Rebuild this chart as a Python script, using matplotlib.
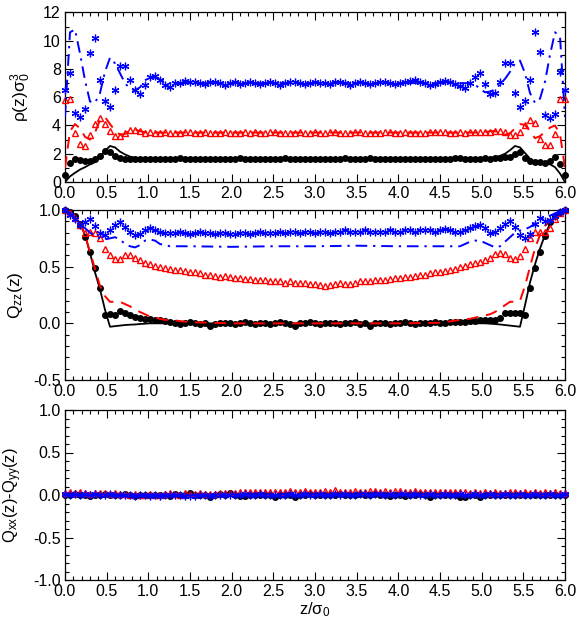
import numpy as np
import matplotlib
matplotlib.use("Agg")
import matplotlib.pyplot as plt
from matplotlib.ticker import MultipleLocator, FormatStrFormatter

plt.rcParams['font.family'] = ['Liberation Sans', 'DejaVu Sans']
plt.rcParams['mathtext.default'] = 'regular'
plt.rcParams['font.size'] = 11.5

# ---- positions along the slab ----
# simulation bins (every 0.06 sigma_0)
z_pts = np.round(np.arange(101) * 0.06, 2)
# theory curves: dense near the walls, sparse in the flat bulk
z_line = np.concatenate([np.round(np.arange(22) * 0.06, 2),
                         [1.5, 2.0, 2.5, 3.0, 3.5, 4.0, 4.5],
                         np.round(np.arange(79, 101) * 0.06, 2)])

# ---- density profiles rho(z) sigma_0^3 ----
rho_black_pts = [
    0.5, 1.35, 1.6, 1.55, 1.5, 1.5, 1.6, 1.85, 2.2, 2.1, 1.85, 1.7, 1.62,
    1.60, 1.62, 1.64, 1.63, 1.65, 1.66, 1.64, 1.62, 1.63, 1.65,
    1.67, 1.64, 1.63, 1.65, 1.66, 1.64, 1.62, 1.64, 1.66, 1.65,
    1.63, 1.64, 1.67, 1.65, 1.63, 1.64, 1.66, 1.65, 1.62, 1.64,
    1.65, 1.67, 1.64, 1.63, 1.65, 1.66, 1.64, 1.63, 1.62, 1.65,
    1.66, 1.64, 1.65, 1.67, 1.65, 1.63, 1.64, 1.66, 1.68, 1.65,
    1.63, 1.64, 1.65, 1.66, 1.64, 1.62, 1.60, 1.61, 1.63, 1.64,
    1.63, 1.65, 1.66, 1.64, 1.65, 1.67, 1.68, 1.66, 1.64, 1.65,
    1.66, 1.67, 1.66,
    1.68, 1.72, 1.78, 1.8, 2.0, 2.1, 1.7, 1.5, 1.45, 1.4, 1.35, 1.5, 1.8, 1.3, 0.5]
rho_red_pts = [
    5.8, 5.9, 3.5, 2.7, 2.55, 3.3, 4.1, 4.5, 4.1, 3.6, 3.25, 3.25, 3.5, 3.7, 3.65, 3.6,
    3.50, 3.52, 3.48, 3.50, 3.53, 3.49, 3.47, 3.50, 3.52, 3.51,
    3.48, 3.50, 3.53, 3.50, 3.48, 3.49, 3.52, 3.50, 3.47, 3.50,
    3.51, 3.49, 3.52, 3.50, 3.48, 3.51, 3.53, 3.50, 3.49, 3.48,
    3.50, 3.52, 3.50, 3.49, 3.51, 3.48, 3.50, 3.53, 3.51, 3.49,
    3.50, 3.48, 3.51, 3.52, 3.50, 3.49, 3.47, 3.50, 3.52, 3.51,
    3.49, 3.50, 3.52, 3.50, 3.48, 3.47, 3.50, 3.51, 3.53, 3.55,
    3.52, 3.50, 3.49, 3.51, 3.50, 3.52, 3.54, 3.55, 3.56,
    3.55, 3.58, 3.6, 3.55, 3.3, 3.3, 3.55, 4.0, 4.4, 4.2, 3.05, 2.6, 2.6, 3.4, 5.9, 5.9]
rho_blue_pts = [
    6.5, 7.7, 4.9, 4.6, 5.2, 9.1, 10.2, 7.2, 5.7, 5.3, 6.5, 8.2, 8.2, 7.2, 6.5, 6.25,
    6.9, 7.4, 7.5, 7.2, 6.9, 6.7, 7.0, 7.0, 7.15, 7.1,
    7.05, 7.0, 6.95, 7.05, 7.1, 7.0, 6.85, 7.0, 7.05, 6.95,
    7.0, 7.1, 7.0, 6.95, 7.0, 7.05, 7.0, 6.9, 7.0, 7.05,
    7.1, 7.0, 6.95, 7.0, 7.05, 7.0, 7.0, 6.95, 7.05, 7.1,
    7.0, 6.9, 7.0, 7.05, 7.0, 6.95, 7.0, 7.1, 7.05, 7.0,
    6.95, 7.0, 7.05, 7.15, 7.2, 7.1, 7.0, 6.9, 6.95, 7.1,
    7.15, 7.1, 6.95, 6.8, 6.65, 7.0, 7.45, 7.7, 6.95, 6.2, 6.3, 7.1, 8.45, 8.4,
    6.3, 5.3, 5.7, 7.2, 10.6, 9.2, 4.75, 4.5, 4.8, 7.8, 6.5]

rho_black_line = [
    0.0, 0.4, 0.65, 0.88, 1.05, 1.25, 1.4, 1.75, 2.2, 2.55, 2.45, 2.15, 1.95, 1.8,
    1.72, 1.68, 1.66, 1.65, 1.65, 1.65, 1.65, 1.65,
    1.65, 1.65, 1.65, 1.65, 1.65, 1.65, 1.65,
    1.65, 1.65, 1.65, 1.65, 1.66, 1.67, 1.7, 1.76, 1.85, 2.0, 2.25, 2.55, 2.45,
    2.05, 1.65, 1.4, 1.35, 1.35, 1.25, 1.05, 0.6, 0.0]
rho_red_line = [
    1.0, 3.6, 4.1, 3.8, 3.2, 3.0, 3.5, 4.4, 4.6, 4.1, 3.65, 3.35, 3.4, 3.65, 3.7,
    3.6, 3.52, 3.5, 3.5, 3.5, 3.5, 3.5,
    3.5, 3.5, 3.5, 3.5, 3.5, 3.5, 3.5,
    3.5, 3.5, 3.5, 3.5, 3.5, 3.52, 3.6, 3.6, 3.45, 3.35, 3.45, 3.8, 4.1, 4.05,
    3.6, 3.1, 3.25, 3.55, 3.85, 4.0, 3.4, 1.0]
rho_blue_line = [
    4.6, 10.6, 10.8, 9.1, 7.2, 5.7, 5.6, 6.3, 7.8, 8.8, 8.4, 7.7, 7.0, 6.6, 6.5,
    6.7, 7.2, 7.4, 7.4, 7.25, 7.1, 7.0,
    7.0, 7.0, 7.0, 7.0, 7.0, 7.0, 7.0,
    7.0, 7.0, 7.0, 6.9, 6.6, 6.35, 6.4, 6.55, 6.9, 7.3, 7.8, 8.4, 8.6, 7.7, 6.3,
    5.6, 5.9, 7.1, 9.0, 10.6, 10.3, 4.6]

# ---- order parameter Q_zz(z) ----
qzz_black_pts = [
    1.0, 0.98, 0.95, 0.88, 0.76, 0.63, 0.49, 0.31, 0.07, 0.08, 0.07, 0.11, 0.09,
    0.07, 0.06, 0.05, 0.04, 0.04, 0.03, 0.03, 0.02, 0.01,
    0.0, -0.01, 0.0, 0.01, 0.0, -0.005, 0.0, -0.02, -0.01, 0.0,
    0.005, 0.0, -0.01, 0.0, 0.01, 0.0, -0.005, 0.0, 0.0, -0.01,
    0.0, 0.01, 0.0, -0.005, -0.02, 0.0, 0.0, 0.01, 0.0, -0.01,
    0.0, 0.005, 0.0, -0.01, 0.0, 0.0, 0.01, -0.005, 0.0, -0.02,
    0.0, 0.005, 0.0, -0.01, 0.0, 0.0, 0.01, 0.0, -0.005, 0.0,
    0.0, 0.005, 0.01, 0.0, 0.005, 0.01, 0.01, 0.01,
    0.01, 0.02, 0.02, 0.03, 0.03, 0.03, 0.03, 0.05, 0.09, 0.09, 0.09, 0.09, 0.07,
    0.31, 0.49, 0.63, 0.77, 0.89, 0.95, 0.98, 1.0]
qzz_red_pts = [
    1.0, 0.97, 0.93, 0.87, 0.8, 0.81, 0.8, 0.75, 0.66, 0.6, 0.57, 0.57, 0.6, 0.6,
    0.58, 0.56, 0.53, 0.52, 0.51, 0.5, 0.49, 0.48, 0.47,
    0.47, 0.46, 0.45, 0.45, 0.44, 0.43, 0.43, 0.42, 0.41, 0.42,
    0.41, 0.40, 0.40, 0.39, 0.39, 0.38, 0.38, 0.38, 0.37, 0.37,
    0.37, 0.36, 0.37, 0.36, 0.36, 0.36, 0.35, 0.35, 0.34, 0.33,
    0.34, 0.35, 0.36, 0.35, 0.35, 0.36, 0.37, 0.37, 0.37, 0.38,
    0.38, 0.38, 0.39, 0.40, 0.40, 0.41, 0.41, 0.42, 0.43, 0.43,
    0.44, 0.45, 0.45, 0.46, 0.47, 0.48, 0.50, 0.51, 0.52, 0.53, 0.54,
    0.56, 0.58, 0.61, 0.62, 0.61, 0.58, 0.57, 0.59, 0.66, 0.75, 0.81, 0.81, 0.81,
    0.84, 0.92, 0.97, 1.0]
qzz_blue_pts = [
    1.0, 0.96, 0.92, 0.87, 0.89, 0.92, 0.86, 0.8, 0.78, 0.82, 0.87, 0.89, 0.85,
    0.81, 0.78, 0.79, 0.82, 0.84, 0.82, 0.81, 0.8, 0.8,
    0.80, 0.81, 0.80, 0.79, 0.80, 0.81, 0.80, 0.80, 0.79, 0.80,
    0.80, 0.79, 0.79, 0.80, 0.80, 0.79, 0.80, 0.81, 0.80, 0.80,
    0.80, 0.81, 0.80, 0.81, 0.81, 0.80, 0.81, 0.81, 0.80, 0.81,
    0.81, 0.80, 0.81, 0.81, 0.82, 0.81, 0.81, 0.81, 0.82, 0.81,
    0.81, 0.81, 0.81, 0.82, 0.81, 0.81, 0.82, 0.82, 0.81, 0.82,
    0.82, 0.82, 0.81, 0.82, 0.83, 0.82, 0.81,
    0.81, 0.82, 0.84, 0.86, 0.87, 0.84, 0.8, 0.81, 0.84, 0.88, 0.9, 0.85, 0.78,
    0.75, 0.79, 0.88, 0.93, 0.9, 0.91, 0.95, 0.98, 1.0]

qzz_black_line = [
    1.0, 0.98, 0.94, 0.88, 0.78, 0.62, 0.45, 0.3, 0.12, -0.03, -0.025, -0.02,
    -0.015, -0.012, -0.01, -0.006, -0.003, 0.0, 0.0, 0.0, 0.0, 0.0,
    0.0, 0.0, 0.0, 0.0, 0.0, 0.0, 0.0,
    0.0, 0.0, 0.0, 0.0, 0.0, 0.0, -0.003, -0.006, -0.01, -0.015, -0.02, -0.025,
    -0.03, 0.16, 0.36, 0.52, 0.66, 0.78, 0.88, 0.94, 0.98, 1.0]
qzz_red_line = [
    1.0, 0.98, 0.95, 0.89, 0.78, 0.63, 0.48, 0.33, 0.24, 0.19, 0.19, 0.19, 0.17,
    0.15, 0.12, 0.1, 0.08, 0.06, 0.05, 0.04, 0.03, 0.03,
    0.01, 0.0, 0.0, 0.0, 0.0, 0.0, 0.005,
    0.03, 0.035, 0.04, 0.05, 0.06, 0.07, 0.08, 0.1, 0.13, 0.16, 0.19, 0.19, 0.2,
    0.33, 0.5, 0.66, 0.78, 0.86, 0.9, 0.94, 0.98, 1.0]
qzz_blue_line = [
    1.0, 0.97, 0.93, 0.88, 0.84, 0.8, 0.77, 0.75, 0.74, 0.75, 0.76, 0.74, 0.7,
    0.68, 0.67, 0.69, 0.73, 0.74, 0.73, 0.7, 0.69, 0.68,
    0.68, 0.675, 0.68, 0.68, 0.685, 0.68, 0.68,
    0.68, 0.7, 0.72, 0.73, 0.73, 0.71, 0.69, 0.67, 0.68, 0.72, 0.76, 0.8, 0.82,
    0.83, 0.85, 0.88, 0.91, 0.93, 0.95, 0.97, 0.99, 1.0]

# ---- in-plane anisotropy Q_xx(z) - Q_yy(z) ----
qxy_black_pts = [
    0.0, 0.0, 0.01, 0.0, 0.0, -0.01, 0.0, 0.0, 0.01, 0.0,
    0.0, 0.0, 0.01, 0.0, -0.01, 0.0, 0.0, 0.0, 0.0, 0.0,
    0.0, -0.01, 0.01, 0.0, 0.0, 0.02, 0.0, 0.0, 0.0, -0.02,
    0.0, 0.01, 0.0, 0.02, 0.0, -0.01, -0.01, 0.0, 0.0, 0.0,
    0.0, 0.0, -0.02, 0.0, 0.0, 0.0, -0.02, 0.0, 0.0, 0.01,
    0.0, 0.0, 0.0, 0.0, 0.0, 0.01, 0.0, 0.0, 0.0, 0.01,
    0.0, 0.0, 0.01, 0.0, 0.0, -0.01, 0.0, 0.0, -0.01, 0.0,
    0.0, 0.01, 0.0, -0.02, 0.0, 0.0, 0.0, 0.0, 0.0, -0.02,
    -0.02, 0.0, 0.0, -0.02, 0.0, 0.0, 0.0, 0.0, 0.0, 0.0,
    0.0, 0.0, 0.0, 0.0, 0.0, 0.0, 0.0, 0.0, 0.0, 0.0,
    0.0]
qxy_red_pts = [
    0.02, 0.03, 0.02, 0.03, 0.02, 0.01, 0.02, 0.02, 0.02, 0.01,
    0.02, 0.01, 0.01, 0.0, 0.01, 0.0, 0.0, 0.01, 0.0, 0.0,
    0.01, 0.02, 0.01, 0.0, 0.02, 0.01, 0.01, 0.02, 0.01, 0.01,
    0.01, 0.02, 0.02, 0.02, 0.02, 0.03, 0.03, 0.03, 0.04, 0.04,
    0.04, 0.03, 0.04, 0.04, 0.04, 0.05, 0.04, 0.04, 0.05, 0.04,
    0.04, 0.04, 0.05, 0.04, 0.06, 0.04, 0.04, 0.04, 0.05, 0.04,
    0.04, 0.05, 0.05, 0.04, 0.05, 0.04, 0.05, 0.05, 0.04, 0.03,
    0.05, 0.04, 0.04, 0.03, 0.04, 0.03, 0.04, 0.04, 0.03, 0.03,
    0.03, 0.02, 0.03, 0.02, 0.03, 0.02, 0.03, 0.02, 0.02, 0.03,
    0.03, 0.02, 0.03, 0.02, 0.03, 0.02, 0.03, 0.02, 0.03, 0.02,
    0.02]
qxy_blue_pts = [
    0.01, 0.0, 0.01, 0.0, 0.01, 0.0, 0.01, 0.0, 0.0, 0.01,
    0.0, 0.0, 0.0, 0.0, -0.01, 0.0, 0.0, -0.01, 0.0, -0.01,
    0.0, 0.0, 0.0, 0.0, -0.01, -0.01, -0.01, 0.0, 0.0, -0.01,
    0.0, 0.0, 0.0, 0.0, 0.0, 0.0, 0.01, 0.0, 0.0, 0.01,
    0.0, 0.0, 0.0, 0.0, 0.0, 0.01, 0.0, 0.0, 0.01, 0.0,
    0.0, 0.01, 0.0, 0.0, 0.01, 0.0, 0.01, 0.0, 0.0, 0.01,
    0.01, 0.0, 0.01, 0.01, 0.0, 0.01, 0.0, 0.01, 0.01, 0.0,
    0.01, 0.0, 0.0, 0.01, 0.0, 0.0, 0.01, 0.0, 0.0, 0.01,
    0.0, 0.0, 0.01, 0.0, 0.0, 0.01, 0.0, 0.0, 0.01, 0.0,
    0.0, 0.01, 0.0, 0.0, 0.01, 0.0, 0.0, 0.01, 0.0, 0.0,
    0.01]
qxy_line_z = [0.0, 6.0]
qxy_black_line = [0.0, 0.0]
qxy_red_line = [0.0, 0.0]
qxy_blue_line = [0.0, 0.0]

BLUE = '#0000ff'
RED = '#ff0000'
ASTER = (6, 2, 0)

fig = plt.figure(figsize=(5.79, 6.20), dpi=100)
W = 500 / 579
L = 65 / 579
axes = [fig.add_axes([L, 1 - 182 / 620, W, 169.5 / 620]),
        fig.add_axes([L, 1 - 380 / 620, W, 170 / 620]),
        fig.add_axes([L, 1 - 580 / 620, W, 170 / 620])]

panels = [
    (rho_black_pts, rho_red_pts, rho_blue_pts, z_line,
     rho_black_line, rho_red_line, rho_blue_line),
    (qzz_black_pts, qzz_red_pts, qzz_blue_pts, z_line,
     qzz_black_line, qzz_red_line, qzz_blue_line),
    (qxy_black_pts, qxy_red_pts, qxy_blue_pts, qxy_line_z,
     qxy_black_line, qxy_red_line, qxy_blue_line),
]

for ax, (bp, rp, blp, zl, bl, rl, bll) in zip(axes, panels):
    ax.plot(z_pts, bp, ls='none', marker='o', ms=4.0, color='black',
            mec='black', clip_on=False, zorder=3)
    ax.plot(zl, bl, color='black', lw=1.3, zorder=3)
    ax.plot(z_pts, rp, ls='none', marker='^', ms=5.0, mfc='none', mec=RED,
            mew=1.0, clip_on=False, zorder=4)
    ax.plot(zl, rl, color=RED, lw=1.4, ls=(0, (6, 4)), zorder=4)
    ax.plot(z_pts, blp, ls='none', marker=ASTER, ms=5.5, mec=BLUE, color=BLUE,
            mew=0.9, clip_on=False, zorder=5)
    ax.plot(zl, bll, color=BLUE, lw=1.4, ls=(0, (6, 3, 1.2, 3)), zorder=5)

    ax.set_xlim(0, 6)
    ax.xaxis.set_major_locator(MultipleLocator(0.5))
    ax.xaxis.set_minor_locator(MultipleLocator(0.1))
    ax.xaxis.set_major_formatter(FormatStrFormatter('%.1f'))
    ax.tick_params(which='both', direction='in', top=True, right=True,
                   labelsize=11.5, pad=3)
    ax.tick_params(which='major', length=6, width=0.8)
    ax.tick_params(which='minor', length=3, width=0.8)
    for s in ax.spines.values():
        s.set_linewidth(0.9)

ax1, ax2, ax3 = axes
ax1.set_ylim(0, 12)
ax1.yaxis.set_major_locator(MultipleLocator(2))
ax1.yaxis.set_minor_locator(MultipleLocator(1))
ax1.set_ylabel(r'$\rho(z)\sigma_0^3$', fontsize=12.5)
ax1.yaxis.set_label_coords(-0.064, 0.5)

ax2.set_ylim(-0.5, 1.0)
ax2.yaxis.set_major_locator(MultipleLocator(0.5))
ax2.yaxis.set_minor_locator(MultipleLocator(0.1))
ax2.yaxis.set_major_formatter(FormatStrFormatter('%.1f'))
ax2.set_ylabel(r'$Q_{zz}(z)$', fontsize=12.5)
ax2.yaxis.set_label_coords(-0.08, 0.5)

ax3.set_ylim(-1.0, 1.0)
ax3.yaxis.set_major_locator(MultipleLocator(0.5))
ax3.yaxis.set_minor_locator(MultipleLocator(0.1))
ax3.yaxis.set_major_formatter(FormatStrFormatter('%.1f'))
ax3.set_ylabel(r'$Q_{xx}(z)$-$Q_{yy}(z)$', fontsize=12)
ax3.yaxis.set_label_coords(-0.082, 0.5)
ax3.set_xlabel(r'$z/\sigma_0$', fontsize=12, labelpad=1)

fig.savefig('out.png', dpi=100)
